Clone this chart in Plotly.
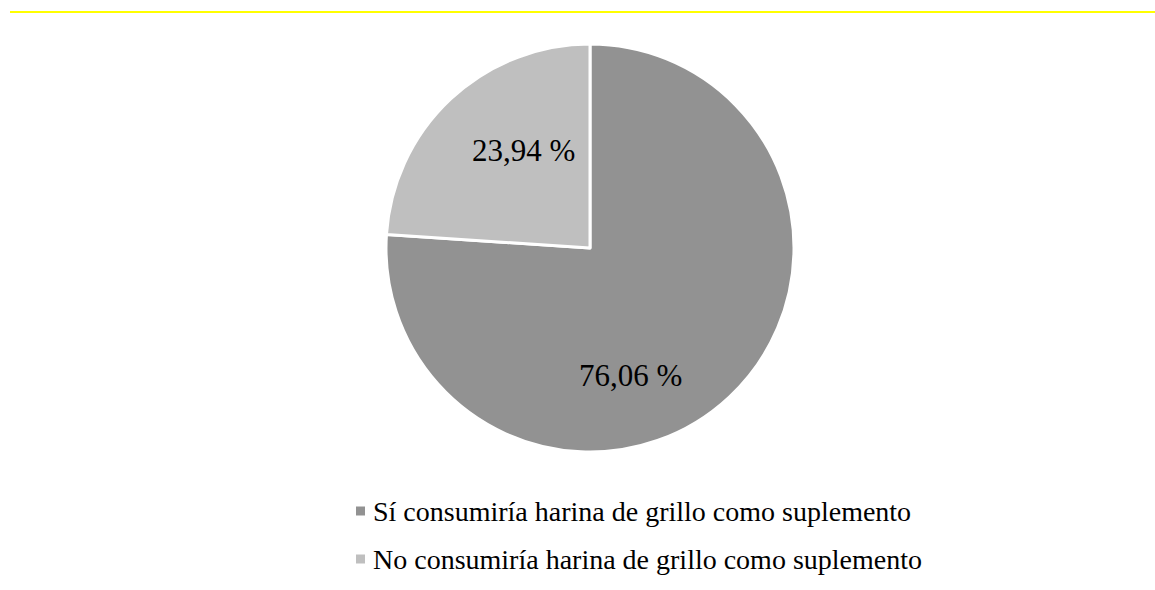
import plotly.graph_objects as go

labels = ["Sí consumiría harina de grillo como suplemento",
          "No consumiría harina de grillo como suplemento"]
values = [76.06, 23.94]
text_labels = ["76,06 %", "23,94 %"]
colors = ["#929292", "#bfbfbf"]

W, H = 1155, 590
FONT = "'Liberation Serif', Tinos, 'Times New Roman', 'DejaVu Serif', serif"

# pixel placement of the slice captions (x, y)
label_pos = [(630, 376), (523, 150)]
# legend rows: square marker left edge, text left edge, row centre
legend_marker_x = 356
legend_text_x = 371
legend_rows_y = [511, 559]

fig = go.Figure(go.Pie(
    labels=labels,
    values=values,
    textinfo="none",
    marker=dict(colors=colors, line=dict(color="#ffffff", width=3)),
    sort=False,
    direction="clockwise",
    rotation=0,
    domain=dict(x=[385 / W, 795 / W], y=[(H - 452) / H, (H - 44) / H]),
    hoverinfo="label+percent",
    showlegend=False,
))

# slice captions
for txt, (px, py) in zip(text_labels, label_pos):
    fig.add_annotation(x=px / W, y=1 - py / H, xref="paper", yref="paper",
                       text=txt, showarrow=False, xanchor="center", yanchor="middle",
                       font=dict(family=FONT, size=31, color="#000000"))

# legend: small square swatch followed by the category name
for lab, col, ry in zip(labels, colors, legend_rows_y):
    fig.add_shape(type="rect", xref="paper", yref="paper",
                  x0=legend_marker_x / W, x1=(legend_marker_x + 9) / W,
                  y0=1 - (ry + 4.5) / H, y1=1 - (ry - 4.5) / H,
                  fillcolor=col, line=dict(width=0))
    fig.add_annotation(x=legend_text_x / W, y=1 - ry / H, xref="paper", yref="paper",
                       text=lab, showarrow=False, xanchor="left", yanchor="middle",
                       font=dict(family=FONT, size=28, color="#000000"))

# thin yellow rule across the top of the figure
fig.add_shape(type="line", xref="paper", yref="paper",
              x0=10 / W, x1=1, y0=1 - 12 / H, y1=1 - 12 / H,
              line=dict(color="#ffff00", width=2))

fig.update_layout(
    width=W, height=H,
    margin=dict(l=0, r=0, t=0, b=0),
    paper_bgcolor="#ffffff",
    plot_bgcolor="#ffffff",
    showlegend=False,
)

fig.write_html("out.html")
